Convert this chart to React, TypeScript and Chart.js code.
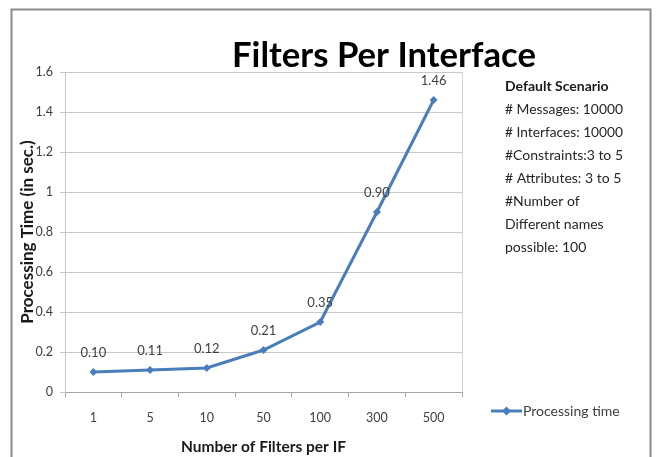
import React, { useEffect, useRef } from "react";
import { Chart, registerables } from "chart.js";

Chart.register(...registerables);

// Number of filters per interface (x categories)
const filterCounts = ["1", "5", "10", "50", "100", "300", "500"];
// Measured processing time in seconds
const processingTime = [0.1, 0.11, 0.12, 0.21, 0.35, 0.9, 1.46];
// Y axis range
const yMin = 0;
const yMax = 1.6;
const yStep = 0.2;

const chartTitle = "Filters Per Interface";
const seriesName = "Processing time";
const scenarioHeading = "Default Scenario";
const scenarioLines = [
  "# Messages: 10000",
  "# Interfaces: 10000",
  "#Constraints:3 to 5",
  "# Attributes: 3 to 5",
  "#Number of",
  "Different names",
  "possible: 100",
];

const FONT = "Lato, 'Open Sans', sans-serif";
const LINE_BLUE = "#4a7ebb";

const decorations = {
  id: "decorations",
  beforeDatasetsDraw(chart: any) {
    const { ctx, chartArea } = chart;
    // light right edge of the plot area
    ctx.save();
    ctx.strokeStyle = "#d4d4d4";
    ctx.lineWidth = 1;
    ctx.beginPath();
    ctx.moveTo(Math.round(chartArea.right) + 0.5, chartArea.top);
    ctx.lineTo(Math.round(chartArea.right) + 0.5, chartArea.bottom);
    ctx.stroke();
    ctx.restore();
  },
  afterDraw(chart: any) {
    const { ctx } = chart;
    ctx.save();

    // outer frame
    ctx.strokeStyle = "#8c8c8c";
    ctx.lineWidth = 2;
    ctx.strokeRect(11.5, 9.5, 639, 470);

    // chart title
    ctx.fillStyle = "#000000";
    ctx.font = `bold 35px ${FONT}`;
    ctx.textAlign = "center";
    ctx.textBaseline = "alphabetic";
    ctx.fillText(chartTitle, 384, 67, 304);

    // value labels above each point
    const meta = chart.getDatasetMeta(0);
    ctx.font = `13px ${FONT}`;
    ctx.fillStyle = "#404040";
    ctx.textBaseline = "middle";
    meta.data.forEach((pt: any, i: number) => {
      ctx.fillText(processingTime[i].toFixed(2), pt.x, pt.y - 19, 26);
    });

    // scenario notes
    ctx.textAlign = "left";
    ctx.fillStyle = "#1a1a1a";
    ctx.font = `bold 14px ${FONT}`;
    ctx.fillText(scenarioHeading, 505, 86, 116);
    ctx.fillStyle = "#262626";
    ctx.font = `14px ${FONT}`;
    scenarioLines.forEach((line, i) => {
      ctx.fillText(line, 505, 109 + i * 23.1, 118);
    });

    // legend
    const ly = 411;
    ctx.strokeStyle = LINE_BLUE;
    ctx.lineWidth = 3;
    ctx.beginPath();
    ctx.moveTo(491, ly);
    ctx.lineTo(522, ly);
    ctx.stroke();
    ctx.fillStyle = LINE_BLUE;
    ctx.beginPath();
    ctx.moveTo(506.5, ly - 4.5);
    ctx.lineTo(511, ly);
    ctx.lineTo(506.5, ly + 4.5);
    ctx.lineTo(502, ly);
    ctx.closePath();
    ctx.fill();
    ctx.fillStyle = "#404040";
    ctx.font = `14px ${FONT}`;
    ctx.fillText(seriesName, 523, ly, 106);

    ctx.restore();
  },
};

export default function App() {
  const canvasRef = useRef<HTMLCanvasElement>(null);

  useEffect(() => {
    if (!canvasRef.current) return;
    const chart = new Chart(canvasRef.current, {
      type: "line",
      data: {
        labels: filterCounts,
        datasets: [
          {
            label: seriesName,
            data: processingTime,
            borderColor: LINE_BLUE,
            backgroundColor: LINE_BLUE,
            borderWidth: 3,
            pointStyle: "rectRot",
            pointRadius: 4,
            pointBorderWidth: 0,
            tension: 0,
          },
        ],
      },
      options: {
        animation: false,
        responsive: false,
        layout: { padding: { left: 0, top: 72, right: 194, bottom: 0 } },
        plugins: {
          legend: { display: false },
          title: { display: false },
          tooltip: { enabled: false },
        },
        scales: {
          x: {
            offset: true,
            afterFit(scale: any) {
              scale.height = 65;
            },
            grid: {
              offset: true,
              drawOnChartArea: false,
              tickLength: 5,
              color: "#a6a6a6",
            },
            border: { color: "#a6a6a6" },
            ticks: {
              color: "#404040",
              font: { family: FONT, size: 12.5 },
              padding: 13,
            },
            title: {
              display: true,
              text: "Number of Filters per IF",
              color: "#1a1a1a",
              font: { family: FONT, size: 15.5, weight: "bold" },
              padding: { top: 0, bottom: 1 },
            },
          },
          y: {
            min: yMin,
            max: yMax,
            afterFit(scale: any) {
              scale.width = 65;
            },
            grid: {
              color: "#c8c8c8",
              tickLength: 5,
            },
            border: { color: "#c8c8c8" },
            ticks: {
              stepSize: yStep,
              color: "#404040",
              font: { family: FONT, size: 12.5 },
              padding: 7,
              callback: (v: any) => String(Math.round(Number(v) * 10) / 10),
            },
            title: {
              display: true,
              text: "Processing Time (in sec.)",
              color: "#1a1a1a",
              font: { family: FONT, size: 17, weight: "bold" },
              padding: { top: 17, bottom: 0 },
            },
          },
        },
      },
      plugins: [decorations],
    });
    return () => chart.destroy();
  }, []);

  return (
    <div
      style={{
        position: "fixed",
        left: 0,
        top: 0,
        width: 656,
        height: 457,
        background: "#ffffff",
      }}
    >
      <canvas ref={canvasRef} width={656} height={457} />
    </div>
  );
}
